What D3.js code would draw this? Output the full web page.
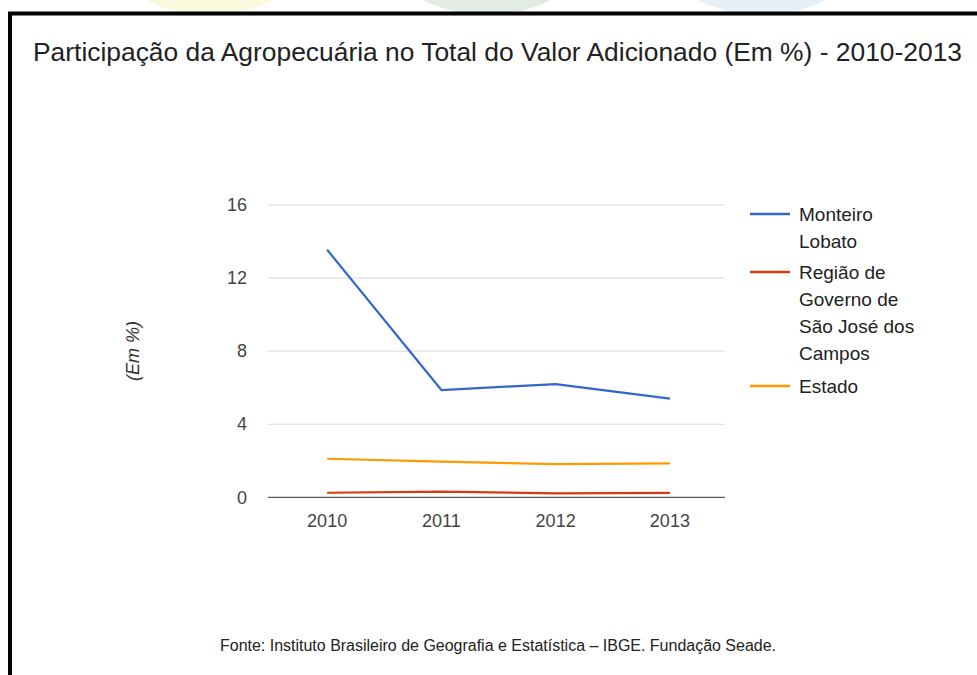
<!DOCTYPE html>
<html>
<head>
<meta charset="utf-8">
<script src="https://cdn.jsdelivr.net/npm/d3@7"></script>
<style>
  html, body { margin: 0; padding: 0; background: #fff; }
  svg { display: block; }
  text { font-family: "Liberation Sans", Arial, sans-serif; }
</style>
</head>
<body>
<svg id="chart" width="977" height="675"></svg>
<script>
const years = ["2010", "2011", "2012", "2013"];
const seriesNames = ["Monteiro Lobato", "Região de Governo de São José dos Campos", "Estado"];
const monteiroLobato = [13.55, 5.87, 6.2, 5.4];
const regiaoSJC = [0.25, 0.31, 0.22, 0.24];
const estado = [2.11, 1.95, 1.82, 1.86];
const yTicks = [0, 4, 8, 12, 16];
const legendLines = [["Monteiro", "Lobato"], ["Região de", "Governo de", "São José dos", "Campos"], ["Estado"]];
const colors = ["#3366cc", "#dc3912", "#ff9900"];
const titleText = "Participação da Agropecuária no Total do Valor Adicionado (Em %) - 2010-2013";
const sourceText = "Fonte: Instituto Brasileiro de Geografia e Estatística – IBGE. Fundação Seade.";
const yTitle = "(Em %)";

const svg = d3.select("#chart");

// faint decorative shapes above the frame
const deco = svg.append("g");
[[210, "#fbf9dc"], [487, "#e2ece2"], [762, "#e6f0f8"]].forEach(([cx, c]) => {
  deco.append("ellipse").attr("cx", cx).attr("cy", -110).attr("rx", 135).attr("ry", 125).attr("fill", c);
});
svg.append("rect").attr("x", 0).attr("y", 12).attr("width", 977).attr("height", 663).attr("fill", "#fff");

// frame
svg.append("path").attr("d", "M10,700 L10,13.5 L990,13.5")
  .attr("fill", "none").attr("stroke", "#000").attr("stroke-width", 4);

// title
svg.append("text").attr("x", 33).attr("y", 61).attr("font-size", 26).attr("fill", "#222")
  .attr("textLength", 929).attr("lengthAdjust", "spacingAndGlyphs").text(titleText);

const x = d3.scaleBand().domain(years).range([270, 727]);
const y = d3.scaleLinear().domain([0, 16]).range([497.3, 205]);

// grid
const grid = svg.append("g");
grid.selectAll("line").data(yTicks.filter(d => d !== 0)).join("line")
  .attr("x1", 268).attr("x2", 725)
  .attr("y1", d => y(d)).attr("y2", d => y(d))
  .attr("stroke", "#d9d9d9").attr("stroke-width", 1);

// y axis labels
const yAxis = d3.axisLeft(y).tickValues(yTicks).tickSize(0).tickPadding(0).tickFormat(d3.format("d"));
const yg = svg.append("g").attr("transform", "translate(247,0)").call(yAxis);
yg.select(".domain").remove();
yg.selectAll("text").attr("font-size", 18).attr("fill", "#444")
  .attr("font-family", "'Liberation Sans', Arial, sans-serif");

// x axis labels
const xAxis = d3.axisBottom(x).tickSize(0).tickPadding(0);
const xg = svg.append("g").attr("transform", "translate(0,514)").call(xAxis);
xg.select(".domain").remove();
xg.selectAll("text").attr("font-size", 18).attr("fill", "#444")
  .attr("font-family", "'Liberation Sans', Arial, sans-serif");

// lines
const data = [monteiroLobato, regiaoSJC, estado];
const line = d3.line().x((d, i) => x(years[i]) + x.bandwidth() / 2).y(d => y(d));
[2, 1, 0].forEach(k => {
  svg.append("path").datum(data[k]).attr("d", line)
    .attr("fill", "none").attr("stroke", colors[k]).attr("stroke-width", 2.2)
    .attr("stroke-linejoin", "round");
});

// baseline
svg.append("line").attr("x1", 268).attr("x2", 725).attr("y1", y(0)).attr("y2", y(0))
  .attr("stroke", "#333").attr("stroke-width", 1);

// y title
svg.append("text").attr("transform", "translate(139,351) rotate(-90)")
  .attr("text-anchor", "middle").attr("font-size", 18).attr("font-style", "italic")
  .attr("fill", "#333").text(yTitle);

// legend
const legendY = [214, 272, 386];
const lg = svg.append("g");
legendLines.forEach((lines, k) => {
  lg.append("line").attr("x1", 750).attr("x2", 790).attr("y1", legendY[k]).attr("y2", legendY[k])
    .attr("stroke", colors[k]).attr("stroke-width", 2.5);
  lines.forEach((t, j) => {
    lg.append("text").attr("x", 799).attr("y", legendY[k] + 6.5 + j * 27.2)
      .attr("font-size", 19).attr("fill", "#222").text(t);
  });
});

// source
svg.append("text").attr("x", 220).attr("y", 651).attr("font-size", 16).attr("fill", "#222")
  .attr("textLength", 556).attr("lengthAdjust", "spacingAndGlyphs").text(sourceText);
</script>
</body>
</html>
